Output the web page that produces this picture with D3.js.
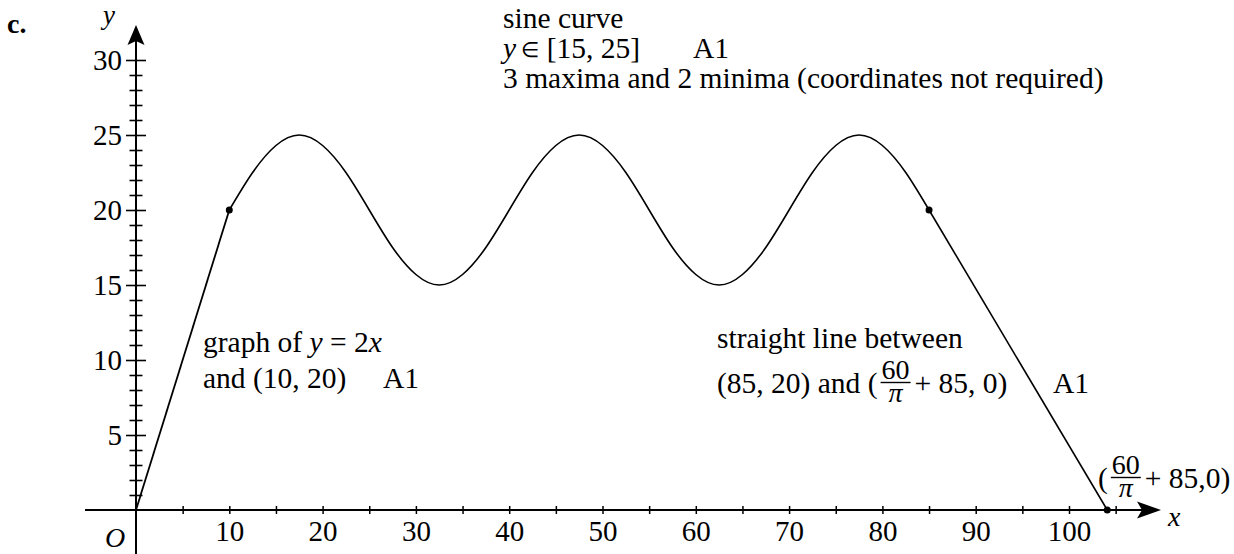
<!DOCTYPE html>
<html><head><meta charset="utf-8">
<script src="https://cdn.jsdelivr.net/npm/d3@7"></script>
<style>
body{margin:0;background:#fff}
svg{display:block}
text{font-family:"Liberation Serif","Times New Roman",serif;fill:#000}
</style>
</head><body>
<svg id="chart" width="1234" height="554"></svg>
<script>
// ---- data ----
const xTickValues = [5,10,15,20,25,30,35,40,45,50,55,60,65,70,75,80,85,90,95,100,105];
const xTickLabels = [10,20,30,40,50,60,70,80,90,100];
const yTickValues = [1,2,3,4,5,6,7,8,9,10,11,12,13,14,15,16,17,18,19,20,21,22,23,24,25,26,27,28,29,30];
const yTickLabels = [5,10,15,20,25,30];
const riseX = [0, 10];
const riseY = [0, 20];
const sineX = [10,12.5,15,17.5,20,22.5,25,27.5,30,32.5,35,37.5,40,42.5,45,47.5,50,52.5,55,57.5,60,62.5,65,67.5,70,72.5,75,77.5,80,82.5,85];
const sineY = [20,22.5,24.3,25,24.3,22.5,20,17.5,15.7,15,15.7,17.5,20,22.5,24.3,25,24.3,22.5,20,17.5,15.7,15,15.7,17.5,20,22.5,24.3,25,24.3,22.5,20];
const fallX = [85, 104.1];
const fallY = [20, 0];
const dotX = [10, 85, 104.1];
const dotY = [20, 20, 0];

// ---- scales ----
const svg = d3.select("#chart");
const x = d3.scaleLinear().domain([0, 100]).range([136, 1069]);
const y = d3.scaleLinear().domain([0, 30]).range([510, 60]);
const FONT = "Liberation Serif, Times New Roman, serif";
const FS = 29.5;

// ---- axes lines ----
svg.append("line").attr("x1", 85).attr("x2", 1145).attr("y1", y(0)).attr("y2", y(0))
  .attr("stroke", "#000").attr("stroke-width", 2);
svg.append("line").attr("x1", x(0)).attr("x2", x(0)).attr("y1", 554).attr("y2", 38)
  .attr("stroke", "#000").attr("stroke-width", 2);
// arrowheads
const ax = x(0);
svg.append("path").attr("d", `M${ax},25 L${ax+8.5},45 L${ax},41 L${ax-8.5},45 Z`).attr("fill", "#000");
const ay = y(0);
svg.append("path").attr("d", `M1161,${ay} L1137,${ay-8.5} L1142,${ay} L1137,${ay+8.5} Z`).attr("fill", "#000");

// ---- y axis ticks ----
const gy = svg.append("g").attr("transform", `translate(${x(0)},0)`)
  .call(d3.axisLeft(y).tickValues(yTickValues).tickSize(0)
    .tickFormat(d => yTickLabels.includes(d) ? d : ""));
gy.select(".domain").remove();
gy.attr("font-family", FONT).attr("font-size", 29).attr("fill", "#000");
gy.selectAll(".tick line")
  .attr("x1", d => yTickLabels.includes(d) ? -10 : -6.5)
  .attr("x2", d => yTickLabels.includes(d) ? 10 : 6.5)
  .attr("stroke", "#000").attr("stroke-width", 1.6);
gy.selectAll(".tick text").attr("x", -14).attr("dy", "0.34em").attr("fill", "#000");

// ---- x axis ticks ----
const gx = svg.append("g").attr("transform", `translate(0,${y(0)})`)
  .call(d3.axisBottom(x).tickValues(xTickValues).tickSize(0)
    .tickFormat(d => xTickLabels.includes(d) ? d : ""));
gx.select(".domain").remove();
gx.attr("font-family", FONT).attr("font-size", 29).attr("fill", "#000");
gx.selectAll(".tick line").attr("y1", -4).attr("y2", 4)
  .attr("stroke", "#000").attr("stroke-width", 1.5);
gx.selectAll(".tick text").attr("y", 31).attr("dy", 0).attr("fill", "#000");

// ---- curves ----
const lin = d3.line().x(d => x(d[0])).y(d => y(d[1]));
svg.append("path").datum(d3.zip(riseX, riseY)).attr("d", lin)
  .attr("fill", "none").attr("stroke", "#000").attr("stroke-width", 1.8);
svg.append("path").datum(d3.zip(fallX, fallY)).attr("d", lin)
  .attr("fill", "none").attr("stroke", "#000").attr("stroke-width", 1.6);
svg.append("path").datum(d3.zip(sineX, sineY)).attr("d", lin.curve(d3.curveNatural))
  .attr("fill", "none").attr("stroke", "#000").attr("stroke-width", 1.6);
svg.selectAll("circle.pt").data(d3.zip(dotX, dotY)).join("circle").attr("class", "pt")
  .attr("cx", d => x(d[0])).attr("cy", d => y(d[1])).attr("r", 3.5).attr("fill", "#000");

// ---- text helpers ----
function txt(xp, yp, parts, size) {
  const t = svg.append("text").attr("x", xp).attr("y", yp).attr("font-size", size || FS);
  parts.forEach(p => {
    const s = t.append("tspan").text(p[0]);
    if (p[1] === "i") s.attr("font-style", "italic");
    if (p[1] === "b") s.attr("font-weight", "bold");
    if (p[1] === "s") s.attr("font-size", 21).attr("dy", -1);
    if (p[1] === "r") s.attr("dy", 1);
  });
  return t;
}
function measure(str, size, italic) {
  const t = svg.append("text").attr("font-size", size).text(str);
  if (italic) t.attr("font-style", "italic");
  const w = t.node().getComputedTextLength();
  t.remove();
  return w;
}
function fracLine(xp, base, pre, num, den, post, size) {
  const fs = size || FS, ff = fs - 1.5;
  const wPre = measure(pre, fs);
  const w = Math.max(measure(num, ff), measure(den, ff, true)) + 2;
  const fx = xp + wPre + 3;
  const mid = fx + w / 2;
  const t = svg.append("text").attr("font-size", fs);
  t.append("tspan").attr("x", xp).attr("y", base).text(pre);
  t.append("tspan").attr("x", mid).attr("y", base - 14).attr("font-size", ff)
    .attr("text-anchor", "middle").text(num);
  t.append("tspan").attr("x", mid).attr("y", base + 9).attr("font-size", ff)
    .attr("font-style", "italic").attr("text-anchor", "middle").text(den);
  t.append("tspan").attr("x", fx + w + 4).attr("y", base).text(post);
  svg.append("line").attr("x1", fx).attr("x2", fx + w).attr("y1", base - 10.5).attr("y2", base - 10.5)
    .attr("stroke", "#000").attr("stroke-width", 1.4);
}

// ---- labels ----
txt(7, 33, [["c.", "b"]], 28);
txt(103, 24, [["y", "i"]], 27);
txt(105, 547, [["O", "i"]], 28);
txt(1168, 526, [["x", "i"]], 28);

txt(503, 28, [["sine curve"]]);
txt(503, 58, [["y", "i"], [" ∈", "s"], [" [15, 25]", "r"]]);
txt(693, 58, [["A1"]]);
txt(503, 88, [["3 maxima and 2 minima (coordinates not required)"]]);

txt(203, 352, [["graph of "], ["y", "i"], [" = 2"], ["x", "i"]]);
txt(203, 388, [["and (10, 20)"]]);
txt(383, 388, [["A1"]]);

txt(717, 348, [["straight line between"]]);
fracLine(717, 393, "(85, 20) and (", "60", "π", "+ 85, 0)");
txt(1053, 393, [["A1"]]);

fracLine(1098, 488, "(", "60", "π", "+ 85,0)");
</script>
</body></html>
